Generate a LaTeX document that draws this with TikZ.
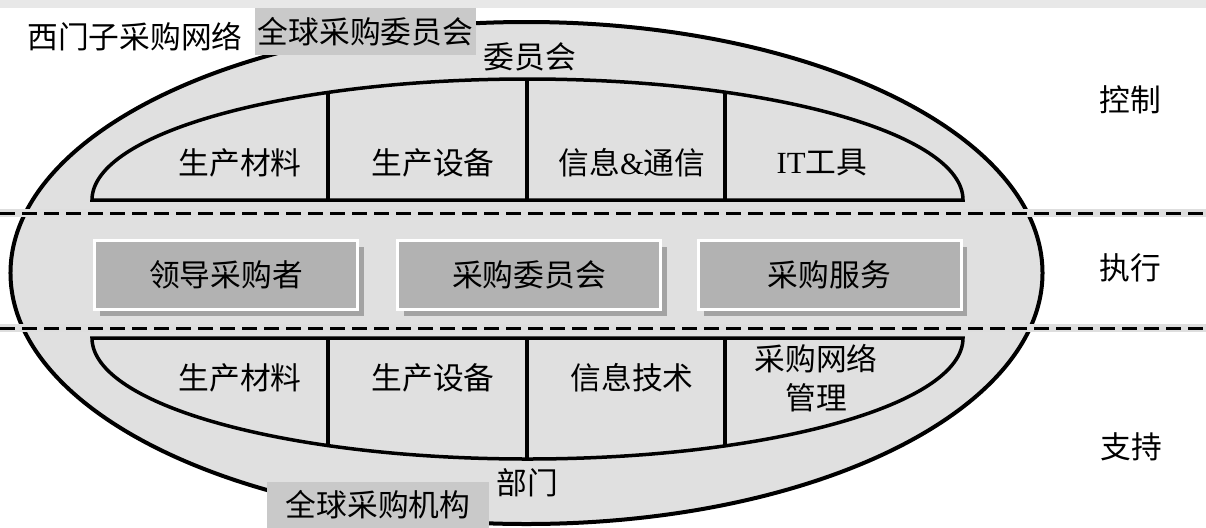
\documentclass[tikz,border=0pt]{standalone}
\usepackage{fontspec}
\setmainfont{Liberation Serif}
\newfontfamily\cjk{Noto Sans CJK SC}
\usepackage{tikz}
\usetikzlibrary{shadows}

\definecolor{ovalgray}{gray}{0.88}
\definecolor{boxgray}{gray}{0.70}
\definecolor{shadegray}{gray}{0.64}
\definecolor{tabgray}{gray}{0.79}
\definecolor{bandgray}{gray}{0.87}
\definecolor{stripgray}{gray}{0.91}

\tikzset{
    lbl/.style={font=\cjk\fontsize{17.5}{22}\selectfont, inner sep=0pt},
    tabbox/.style={lbl, fill=tabgray, minimum width=44.2mm, minimum height=9.4mm},
    rolebox/.style={lbl, fill=boxgray, draw=white, line width=0.6mm,
        minimum width=52.6mm, minimum height=13.8mm,
        general shadow={fill=shadegray, shadow xshift=1.2mm, shadow yshift=-1.2mm}},
    sectline/.style={line width=0.7mm},
    band/.style={line width=1.6mm, bandgray},
    dashline/.style={line width=0.6mm, dash pattern=on 3mm off 1.4mm},
}

\begin{document}
\begin{tikzpicture}[x=0.2mm, y=-0.2mm]
    \useasboundingbox (0,0) rectangle (1206,527);
    \fill[white] (0,0) rectangle (1206,527);
    \fill[stripgray] (0,0) rectangle (1206,8);

    % outer oval
    \draw[line width=0.8mm, fill=ovalgray] (526.5,273) ellipse [x radius=103.2mm, y radius=50.2mm];

    % upper and lower half ovals
    \draw[sectline, fill=ovalgray] (92,200) arc[start angle=180, end angle=0, x radius=87.1mm, y radius=24.2mm] -- cycle;
    \draw[sectline, fill=ovalgray] (92,338) arc[start angle=180, end angle=360, x radius=87.1mm, y radius=24.2mm] -- cycle;

    \begin{scope}
        \clip (92,200) arc[start angle=180, end angle=0, x radius=87.1mm, y radius=24.2mm] -- cycle;
        \foreach \x in {328, 527, 725} {
            \draw[sectline] (\x,60) -- (\x,200);
        }
    \end{scope}
    \begin{scope}
        \clip (92,338) arc[start angle=180, end angle=360, x radius=87.1mm, y radius=24.2mm] -- cycle;
        \foreach \x in {328, 527, 725} {
            \draw[sectline] (\x,338) -- (\x,480);
        }
    \end{scope}

    % level lines
    \foreach \y in {213, 328} {
        \draw[band] (0,\y) -- (1206,\y);
        \draw[dashline] (0,\y) -- (1206,\y);
    }

    % execution boxes
    \node[rolebox] (lead) at (226,275) {领导采购者};
    \node[rolebox] (board) at (529,275) {采购委员会};
    \node[rolebox] (serv) at (829.5,275) {采购服务};

    % tabs
    \node[tabbox] (council) at (365.5,31.5) {全球采购委员会};
    \node[tabbox, minimum width=44.4mm, minimum height=9.2mm] (agency) at (378,505) {全球采购机构};
    \node[lbl] (net) at (135,37) {西门子采购网络};

    \node[lbl] (comm) at (530,57) {委员会};
    \node[lbl] (dept) at (527,483) {部门};

    % upper sections
    \node[lbl] (mat1) at (240,163) {生产材料};
    \node[lbl] (equ1) at (433,163) {生产设备};
    \node[lbl] (ict) at (632,163) {信息{\rmfamily\&}通信};
    \node[lbl] (tool) at (822,163) {{\rmfamily IT}工具};

    % lower sections
    \node[lbl] (mat2) at (240,378) {生产材料};
    \node[lbl] (equ2) at (433,378) {生产设备};
    \node[lbl] (itech) at (632,378) {信息技术};
    \node[lbl, align=center] (netmgmt) at (816,378) {采购网络\\管理};

    % levels
    \node[lbl] (ctrl) at (1130,100) {控制};
    \node[lbl] (exec) at (1130,268) {执行};
    \node[lbl] (supp) at (1131,447) {支持};
\end{tikzpicture}
\end{document}
